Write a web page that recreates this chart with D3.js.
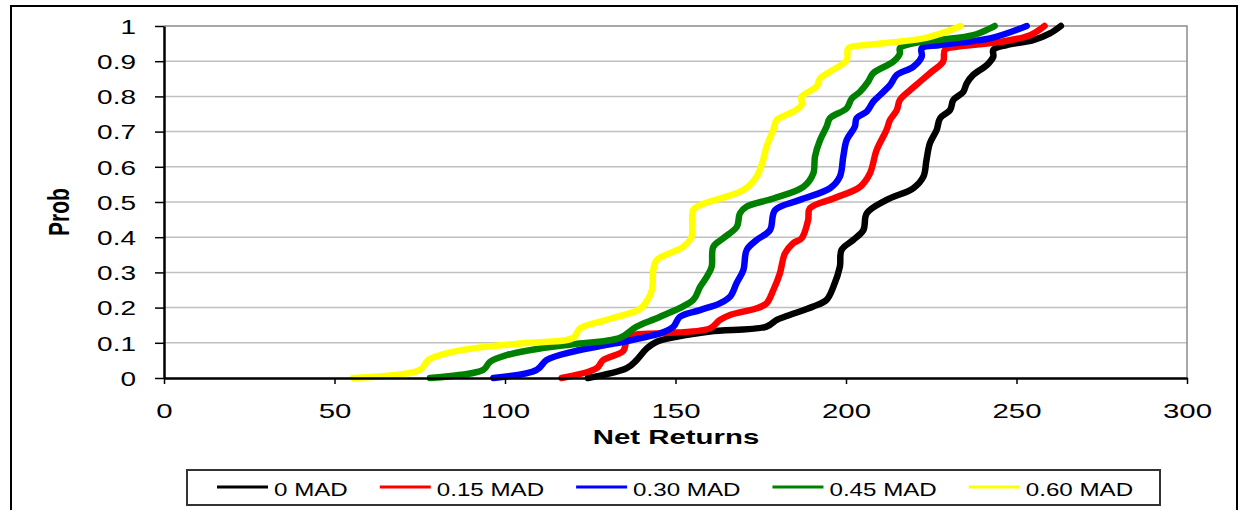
<!DOCTYPE html>
<html>
<head>
<meta charset="utf-8">
<script src="https://cdn.jsdelivr.net/npm/d3@7"></script>
<style>
  html, body { margin: 0; padding: 0; background: #fff; }
  svg { display: block; }
  text { font-family: "Liberation Sans", Arial, sans-serif; fill: #000; }
</style>
</head>
<body>
<svg id="chart" width="1239" height="510"></svg>
<script>
// Cumulative distribution of net returns, one series per MAD level: [net return, probability]
const mad0 = [
  [124.3, 0], [135.7, 0.028], [138.6, 0.051], [141.6, 0.084], [144.5, 0.103], [150.3, 0.117],
  [160.1, 0.132], [176.7, 0.146], [179.7, 0.165], [182.6, 0.176], [190.4, 0.203], [194.3, 0.222],
  [196.3, 0.259], [198.2, 0.316], [198.7, 0.364], [202.1, 0.392], [205.1, 0.420], [206.1, 0.468],
  [211.9, 0.506], [219.7, 0.539], [222.7, 0.572], [223.6, 0.619], [224.6, 0.667], [226.6, 0.705],
  [227.6, 0.738], [230.5, 0.761], [231.5, 0.790], [234.4, 0.813], [235.4, 0.837], [237.3, 0.861],
  [241.3, 0.889], [243.2, 0.913], [243.2, 0.932], [247.1, 0.946], [254.9, 0.960], [259.8, 0.979],
  [263.0, 1]
];
const mad15 = [
  [116.6, 0], [126.9, 0.028], [128.8, 0.051], [134.7, 0.077], [135.7, 0.108], [137.6, 0.122],
  [145.5, 0.127], [160.1, 0.141], [163.0, 0.165], [166.0, 0.179], [173.8, 0.198], [176.7, 0.212],
  [178.7, 0.250], [180.6, 0.297], [182.1, 0.354], [184.5, 0.383], [187.0, 0.397], [188.9, 0.449],
  [189.4, 0.482], [196.3, 0.510], [204.1, 0.543], [207.0, 0.581], [209.0, 0.648], [211.9, 0.705],
  [212.9, 0.733], [214.9, 0.761], [215.8, 0.790], [218.8, 0.818], [221.7, 0.842], [224.6, 0.866],
  [228.5, 0.899], [229.0, 0.932], [232.4, 0.941], [245.2, 0.955], [254.0, 0.974], [258.2, 1]
];
const mad30 = [
  [96.6, 0], [109.3, 0.023], [112.2, 0.051], [120.0, 0.075], [129.8, 0.094], [134.7, 0.103],
  [145.5, 0.127], [149.4, 0.146], [151.3, 0.174], [157.2, 0.193], [163.0, 0.212], [166.0, 0.231],
  [167.9, 0.269], [169.9, 0.307], [170.9, 0.364], [173.8, 0.392], [177.7, 0.420], [179.2, 0.477],
  [186.5, 0.506], [195.3, 0.539], [198.2, 0.572], [199.2, 0.629], [200.2, 0.676], [202.6, 0.714],
  [203.1, 0.738], [206.1, 0.757], [208.0, 0.785], [210.0, 0.804], [212.9, 0.832], [214.9, 0.861],
  [219.7, 0.884], [222.2, 0.913], [222.2, 0.937], [227.6, 0.946], [242.2, 0.965], [253.0, 1]
];
const mad45 = [
  [78.0, 0], [93.6, 0.023], [95.6, 0.046], [100.5, 0.065], [110.3, 0.084], [120.0, 0.096],
  [133.7, 0.114], [138.6, 0.146], [145.5, 0.174], [155.2, 0.222], [157.2, 0.259], [159.2, 0.288],
  [160.6, 0.316], [161.1, 0.373], [164.0, 0.397], [168.0, 0.430], [168.9, 0.468], [170.9, 0.487],
  [178.7, 0.510], [187.5, 0.543], [190.4, 0.581], [190.9, 0.629], [192.4, 0.676], [194.3, 0.714],
  [195.3, 0.738], [200.2, 0.766], [201.7, 0.794], [204.1, 0.813], [206.5, 0.842], [208.0, 0.866],
  [213.9, 0.899], [215.8, 0.922], [215.8, 0.937], [219.7, 0.951], [237.3, 0.974], [243.6, 1]
];
const mad60 = [
  [55.5, 0], [75.1, 0.023], [77.5, 0.051], [82.9, 0.070], [92.7, 0.087], [105.4, 0.099],
  [120.0, 0.114], [122.0, 0.141], [129.8, 0.165], [139.6, 0.196], [141.6, 0.219], [143.1, 0.250],
  [143.5, 0.307], [144.5, 0.335], [152.3, 0.373], [154.7, 0.401], [155.2, 0.477], [157.2, 0.491],
  [169.9, 0.534], [173.8, 0.572], [175.7, 0.619], [176.7, 0.657], [178.7, 0.705], [179.7, 0.733],
  [184.6, 0.757], [187.0, 0.776], [187.0, 0.799], [191.4, 0.828], [192.4, 0.851], [195.3, 0.870],
  [200.2, 0.903], [200.7, 0.937], [206.0, 0.946], [222.7, 0.965], [229.5, 0.984], [233.6, 1]
];

const seriesNames = ["0 MAD", "0.15 MAD", "0.30 MAD", "0.45 MAD", "0.60 MAD"];
const seriesData = [mad0, mad15, mad30, mad45, mad60];
const seriesColors = ["#000000", "#ff0000", "#0000ff", "#008000", "#ffff00"];

const xTicks = [0, 50, 100, 150, 200, 250, 300];
const yTicks = [0, 0.1, 0.2, 0.3, 0.4, 0.5, 0.6, 0.7, 0.8, 0.9, 1];

// Layout
const plot = { left: 164, right: 1187, top: 26, bottom: 378 };
const SX = 1.4; // horizontal stretch applied to all text

const svg = d3.select("#chart");

// Outer chart frame
svg.append("rect")
  .attr("x", 11).attr("y", 6).attr("width", 1226).attr("height", 530)
  .attr("fill", "#fff").attr("stroke", "#000").attr("stroke-width", 2);

const x = d3.scaleLinear().domain([0, 300]).range([plot.left, plot.right]);
const y = d3.scaleLinear().domain([0, 1]).range([plot.bottom, plot.top]);

// Horizontal gridlines
svg.append("g").selectAll("line")
  .data(yTicks.filter(d => d > 0 && d < 1))
  .join("line")
  .attr("x1", plot.left).attr("x2", plot.right)
  .attr("y1", d => y(d)).attr("y2", d => y(d))
  .attr("stroke", "#c0c0c0").attr("stroke-width", 1.5);

// Plot-area border on top and right
svg.append("path")
  .attr("d", `M${plot.left},${y(1)}H${plot.right}V${plot.bottom}`)
  .attr("fill", "none").attr("stroke", "#8c8c8c").attr("stroke-width", 1.5);

// Smoothed series lines
const line = d3.line()
  .x(d => x(d[0]))
  .y(d => y(d[1]))
  .curve(d3.curveCatmullRom.alpha(0.5));

svg.append("g").selectAll("path")
  .data(seriesData)
  .join("path")
  .attr("d", line)
  .attr("fill", "none")
  .attr("stroke", (d, i) => seriesColors[i])
  .attr("stroke-width", 6.5)
  .attr("stroke-linejoin", "round")
  .attr("stroke-linecap", "round");

// X axis
const xAxis = svg.append("g")
  .attr("transform", `translate(0,${plot.bottom})`)
  .call(d3.axisBottom(x).tickValues(xTicks).tickSize(6).tickSizeOuter(0).tickFormat(d3.format("d")));
xAxis.select(".domain").attr("stroke", "#000").attr("stroke-width", 2.5);
xAxis.selectAll(".tick line").attr("stroke", "#000").attr("stroke-width", 1.5);
xAxis.selectAll(".tick text")
  .attr("x", 0).attr("y", 0).attr("dy", null)
  .attr("transform", `translate(0,40) scale(${SX},1)`)
  .style("font-size", "21px").style("font-family", "'Liberation Sans', Arial, sans-serif").attr("fill", "#000");

// Y axis
const yAxis = svg.append("g")
  .attr("transform", `translate(${plot.left},0)`)
  .call(d3.axisLeft(y).tickValues(yTicks).tickSize(9).tickSizeOuter(0).tickFormat(d => d3.format("")(+d.toFixed(1))));
yAxis.select(".domain").attr("stroke", "#000").attr("stroke-width", 2.5);
yAxis.selectAll(".tick line").attr("stroke", "#000").attr("stroke-width", 1.5);
yAxis.selectAll(".tick text")
  .attr("x", 0).attr("dy", "0.36em")
  .attr("transform", `translate(-28,0) scale(${SX},1)`)
  .style("font-size", "20px").style("font-family", "'Liberation Sans', Arial, sans-serif").attr("fill", "#000");

// Axis titles
svg.append("text")
  .attr("transform", `translate(676,444) scale(${SX},1)`)
  .attr("text-anchor", "middle")
  .style("font-size", "21px").style("font-weight", "bold")
  .text("Net Returns");

svg.append("text")
  .attr("transform", `translate(69,212) scale(${SX},1) rotate(-90)`)
  .attr("text-anchor", "middle")
  .style("font-size", "21px").style("font-weight", "bold")
  .text("Prob");

// Legend
const legend = { left: 187, top: 470, right: 1160, bottom: 505 };
svg.append("rect")
  .attr("x", legend.left).attr("y", legend.top)
  .attr("width", legend.right - legend.left).attr("height", legend.bottom - legend.top)
  .attr("fill", "#fff").attr("stroke", "#333").attr("stroke-width", 2);

const swatchLen = 51, swatchGap = 6, itemGap = 32, legendY = 487;
let cursor = 217;
seriesNames.forEach((name, i) => {
  svg.append("line")
    .attr("x1", cursor).attr("x2", cursor + swatchLen)
    .attr("y1", legendY).attr("y2", legendY)
    .attr("stroke", seriesColors[i]).attr("stroke-width", 3);
  const tx = cursor + swatchLen + swatchGap;
  const t = svg.append("text")
    .attr("transform", `translate(${tx},${legendY + 9}) scale(1.38,1)`)
    .style("font-size", "17.5px")
    .text(name);
  cursor = tx + t.node().getComputedTextLength() * 1.38 + itemGap;
});
</script>
</body>
</html>
